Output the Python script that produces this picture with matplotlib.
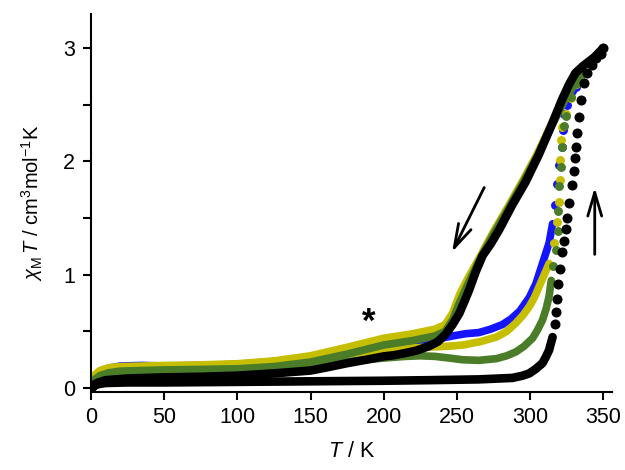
import matplotlib
matplotlib.use('Agg')
import matplotlib.pyplot as plt
from matplotlib.ticker import MultipleLocator

plt.rcParams['font.family'] = ['Liberation Sans', 'DejaVu Sans']
plt.rcParams['mathtext.fontset'] = 'custom'
plt.rcParams['mathtext.rm'] = 'Liberation Sans'
plt.rcParams['mathtext.it'] = 'Liberation Sans:italic'

# chi_M*T (cm3 mol-1 K) vs T (K), heating and cooling branches per sample
blue_cool_T = [1.5, 3, 6, 12, 20, 35, 50, 75, 100, 125, 150, 175, 200, 220, 235, 242, 247, 252, 258, 265, 275, 285, 295, 305, 315, 325, 335]
blue_cool_y = [0.07, 0.11, 0.145, 0.175, 0.195, 0.2, 0.195, 0.2, 0.21, 0.235, 0.275, 0.35, 0.43, 0.47, 0.51, 0.55, 0.64, 0.80, 0.96, 1.13, 1.37, 1.59, 1.82, 2.06, 2.33, 2.58, 2.76]
blue_heat_T = [1.5, 3, 6, 12, 20, 35, 50, 75, 100, 125, 150, 175, 200, 220, 235, 247, 256, 265, 273, 281, 287, 293, 299.5, 304, 308.5, 313, 315.4]
blue_heat_y = [0.07, 0.1, 0.14, 0.17, 0.18, 0.185, 0.19, 0.195, 0.2, 0.22, 0.25, 0.31, 0.36, 0.40, 0.43, 0.46, 0.48, 0.49, 0.52, 0.56, 0.61, 0.68, 0.8, 0.92, 1.1, 1.28, 1.45]
blue_jump_T = [317, 318.5, 320, 321.5, 322.5, 323.3, 325, 327, 329, 331.3, 334]
blue_jump_y = [1.62, 1.8, 1.97, 2.13, 2.28, 2.42, 2.5, 2.57, 2.62, 2.66, 2.73]

yellow_cool_T = [1.5, 3, 6, 12, 20, 35, 50, 75, 100, 125, 150, 175, 200, 220, 235, 242, 247, 252, 258, 265, 275, 285, 295, 305, 315, 325, 335]
yellow_cool_y = [0.08, 0.12, 0.155, 0.18, 0.19, 0.195, 0.2, 0.205, 0.215, 0.24, 0.285, 0.36, 0.44, 0.48, 0.52, 0.56, 0.66, 0.83, 0.98, 1.14, 1.38, 1.6, 1.83, 2.07, 2.34, 2.59, 2.77]
yellow_heat_T = [1.5, 3, 6, 12, 20, 35, 50, 75, 100, 125, 150, 175, 200, 220, 236, 245, 254, 266, 277, 284, 290, 295, 299.5, 303, 306, 309, 313]
yellow_heat_y = [0.08, 0.11, 0.14, 0.17, 0.18, 0.185, 0.19, 0.195, 0.205, 0.225, 0.25, 0.3, 0.34, 0.355, 0.365, 0.37, 0.38, 0.41, 0.45, 0.5, 0.57, 0.64, 0.72, 0.8, 0.89, 0.98, 1.1]
yellow_jump_T = [316.5, 318.3, 319.7, 320.2, 320.7, 321.3, 322, 324.5, 328, 331.3, 334.5]
yellow_jump_y = [1.28, 1.47, 1.64, 1.84, 2.01, 2.19, 2.3, 2.42, 2.56, 2.68, 2.76]

green_cool_T = [1.5, 3, 6, 12, 20, 35, 50, 75, 100, 125, 150, 175, 200, 220, 235, 242, 247, 252, 258, 265, 275, 285, 295, 305, 315, 325, 335]
green_cool_y = [0.06, 0.08, 0.11, 0.135, 0.15, 0.155, 0.16, 0.165, 0.17, 0.19, 0.23, 0.3, 0.38, 0.42, 0.46, 0.5, 0.6, 0.76, 0.93, 1.12, 1.36, 1.58, 1.81, 2.05, 2.32, 2.57, 2.77]
green_heat_T = [1.5, 3, 6, 12, 20, 35, 50, 75, 100, 125, 150, 175, 200, 215, 225, 235, 245, 254, 265, 277, 284, 290.4, 296, 301.7, 305, 308.5, 311, 313, 314.5]
green_heat_y = [0.06, 0.08, 0.1, 0.125, 0.14, 0.15, 0.155, 0.16, 0.165, 0.18, 0.2, 0.235, 0.265, 0.28, 0.285, 0.28, 0.265, 0.25, 0.245, 0.26, 0.285, 0.32, 0.37, 0.44, 0.51, 0.6, 0.7, 0.81, 0.95]
green_jump_T = [316, 317.5, 318.8, 319.2, 320, 321.1, 321.7, 323.3, 324.5, 327.9, 332.4, 336]
green_jump_y = [1.08, 1.22, 1.39, 1.56, 1.78, 1.95, 2.13, 2.31, 2.4, 2.57, 2.69, 2.78]

black_cool_T = [350, 347, 344, 340, 336, 331, 326.7, 322, 315, 306, 297, 288, 279, 273, 267.6, 263, 258.5, 255, 251.7, 247, 242.6, 237, 231, 222, 215, 207, 200, 190, 175, 160, 150, 125, 100, 75, 50, 25, 10, 5, 2, 1]
black_cool_y = [3.0, 2.96, 2.92, 2.88, 2.84, 2.78, 2.68, 2.55, 2.33, 2.06, 1.82, 1.62, 1.40, 1.27, 1.17, 1.03, 0.87, 0.76, 0.66, 0.56, 0.48, 0.41, 0.37, 0.33, 0.31, 0.29, 0.28, 0.255, 0.22, 0.18, 0.155, 0.13, 0.11, 0.1, 0.095, 0.085, 0.07, 0.05, 0.03, 0.01]
black_heat_T = [1, 2, 5, 10, 25, 50, 100, 150, 200, 231, 265, 288, 295, 299.5, 304, 308.5, 311, 313, 315.4]
black_heat_y = [0.0, 0.02, 0.035, 0.045, 0.05, 0.05, 0.055, 0.06, 0.065, 0.07, 0.077, 0.09, 0.11, 0.13, 0.17, 0.22, 0.28, 0.335, 0.45]
black_jump_T = [317.2, 317.8, 318.6, 319.4, 320.5, 322, 323.3, 324.5, 325.4, 326.7, 328.6, 330.2, 330.6, 331.3, 332.2, 333.6, 334.7, 337, 339, 342, 345, 348.3, 350]
black_jump_y = [0.57, 0.67, 0.79, 0.92, 1.05, 1.2, 1.3, 1.4, 1.5, 1.63, 1.79, 1.92, 2.03, 2.13, 2.25, 2.39, 2.54, 2.69, 2.78, 2.85, 2.91, 2.95, 3.0]

blue = '#1414ff'
yellow = '#c6be00'
green = '#4b7d29'
black = '#000000'

fig = plt.figure(figsize=(6.25, 4.7), dpi=100)
ax = fig.add_axes([0.1456, 0.167, 0.8336, 0.803])

def band(T, y, c, lw=5.5):
    ax.plot(T, y, '-', color=c, lw=lw, solid_capstyle='round', solid_joinstyle='round')

def dots(T, y, c, ms=5.4):
    ax.plot(T, y, 'o', color=c, ms=ms, mec=c, ls='none')

series = [
    (blue, blue_cool_T, blue_cool_y, blue_heat_T, blue_heat_y, blue_jump_T, blue_jump_y),
    (yellow, yellow_cool_T, yellow_cool_y, yellow_heat_T, yellow_heat_y, yellow_jump_T, yellow_jump_y),
    (green, green_cool_T, green_cool_y, green_heat_T, green_heat_y, green_jump_T, green_jump_y),
]
for c, cT, cy, hT, hy, jT, jy in series:
    band(cT, cy, c)
    band(hT, hy, c)
    dots(jT, jy, c)

band(black_cool_T, black_cool_y, black, lw=6.2)
band(black_heat_T, black_heat_y, black, lw=6.2)
dots(black_jump_T, black_jump_y, black, ms=6.2)

# sweep direction arrows
arrow = dict(arrowstyle='->,head_length=0.85,head_width=0.25',
             lw=2, color='k', shrinkA=0, shrinkB=0, mutation_scale=20)
ax.annotate('', xy=(246.7, 1.2), xytext=(268.7, 1.77), arrowprops=arrow)
ax.annotate('', xy=(344.2, 1.77), xytext=(344.2, 1.18), arrowprops=arrow)
ax.text(190, 0.58, '*', fontsize=25, fontweight='bold', ha='center', va='center')

ax.set_xlim(0, 356)
ax.set_ylim(-0.03, 3.3)
ax.xaxis.set_major_locator(MultipleLocator(50))
ax.yaxis.set_major_locator(MultipleLocator(1))
ax.yaxis.set_minor_locator(MultipleLocator(0.5))
for s in ['top', 'right']:
    ax.spines[s].set_visible(False)
for s in ['left', 'bottom']:
    ax.spines[s].set_linewidth(1.5)
ax.tick_params(which='both', direction='out', width=1.5, labelsize=15.5)
ax.tick_params(which='major', length=5.5, pad=6)
ax.tick_params(which='minor', length=5.5)

ax.set_xlabel(r'$T$ / K', fontsize=15.5, labelpad=9)
ax.set_ylabel(r'$\chi_{\mathrm{M}}\,T$ / cm$^3$mol$^{-1}$K', fontsize=14.5, labelpad=13)

fig.savefig('out.png', dpi=100)
